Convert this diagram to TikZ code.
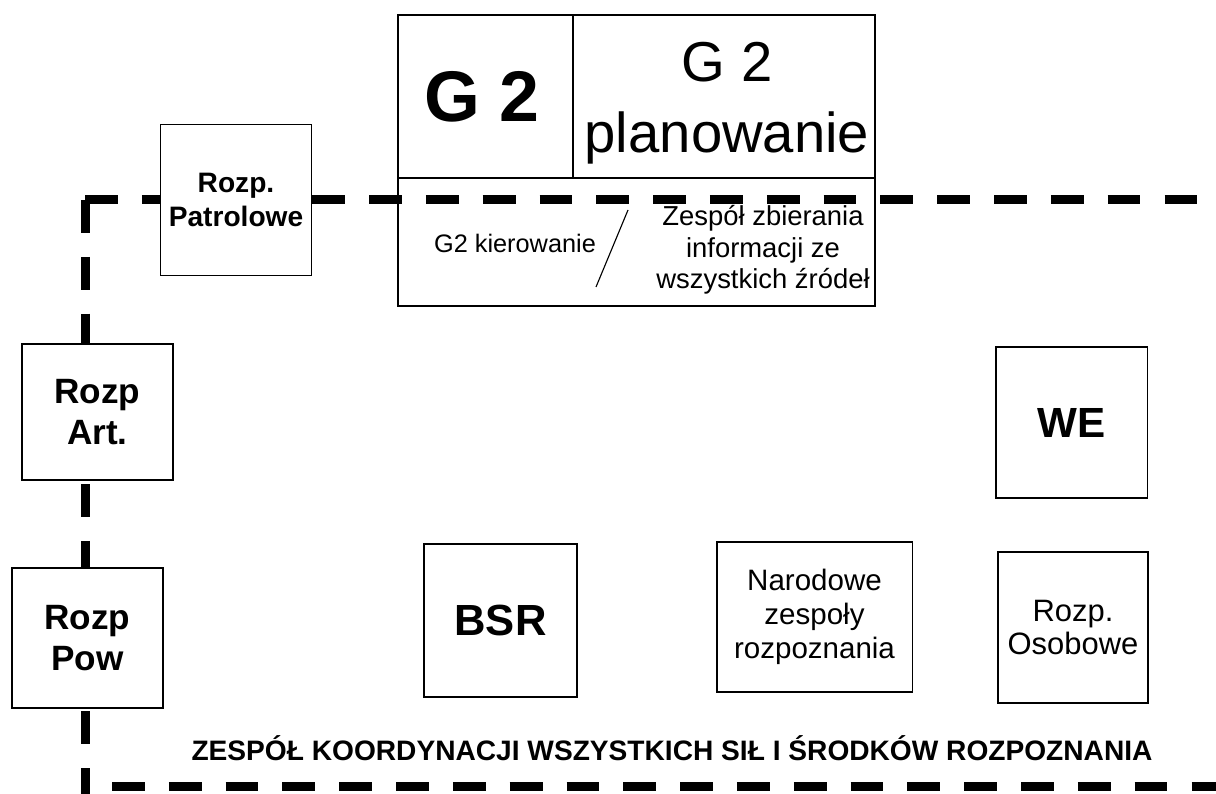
\documentclass[tikz,border=0pt]{standalone}
\usepackage{fontspec}
\setmainfont{Liberation Sans}
\tikzset{
  cell/.style={draw, line width=0.9pt, inner sep=0pt, align=center},
  unitbox/.style={cell, fill=white, minimum width=3.78cm, minimum height=3.78cm},
  frameline/.style={line width=6.4pt, dash pattern=on 0.82cm off 0.6cm}
}
\newcommand{\fs}[2]{\fontsize{#1}{#2}\selectfont}
\begin{document}
\begin{tikzpicture}[x=0.025cm, y=-0.025cm]
    \useasboundingbox (0,0) rectangle (1216,794);

    % Frame of the coordination team
    \coordinate (tl) at (85,200);
    \coordinate (tr) at (1216,200);
    \coordinate (bl) at (85,794);
    \coordinate (bs) at (112,786);
    \coordinate (br) at (1216,786);
    \draw[frameline] (tl) -- (tr);
    \draw[frameline] (tl) -- (bl);
    \draw[frameline] (bs) -- (br);

    % G2 block
    \node[cell, minimum width=4.375cm, minimum height=4.075cm] (g2) at (485.5,96.5) {};
    \node[cell, minimum width=7.55cm, minimum height=4.075cm] (g2plan) at (724,96.5) {};
    \node[cell, minimum width=11.925cm, minimum height=3.2cm] (g2low) at (636.5,242) {};
    \node[font=\fs{51}{56}\bfseries] (g2txt) at (482,97) {G 2};
    \node[font=\fs{40}{44}] (g2top) at (727,62) {G 2};
    \node[font=\fs{40}{44}] (g2plantxt) at (727,138) {planowanie};
    \node[font=\fs{18}{22}] (kier) at (515,243) {G2 kierowanie};
    \node[align=center, font=\fs{19.5}{22.5}] (zesp) at (763,250) {Zespół zbierania\\ informacji ze\\ wszystkich źródeł};
    \coordinate (slashtop) at (628,210);
    \coordinate (slashbot) at (596,287);
    \draw[line width=0.8pt] (slashtop) -- (slashbot);

    % Reconnaissance elements
    \node[unitbox, font=\fs{20}{24}\bfseries] (patrol) at (236,200) {Rozp.\\ Patrolowe};
    \node[unitbox, minimum height=3.4cm, font=\fs{25}{29}\bfseries] (art) at (97.5,412) {Rozp\\ Art.};
    \node[unitbox, minimum height=3.5cm, font=\fs{25}{29}\bfseries] (pow) at (87.5,638) {Rozp\\ Pow};
    \node[unitbox, font=\fs{30}{34}\bfseries] (we) at (1071.5,422.5) {WE};
    \node[unitbox, minimum width=3.83cm, minimum height=3.83cm, font=\fs{31}{34}\bfseries] (bsr) at (500.5,620.5) {BSR};
    \node[unitbox, minimum width=4.88cm, minimum height=3.75cm, font=\fs{21}{24}] (narod) at (814.5,617) {Narodowe\\ zespoły\\ rozpoznania};
    \node[unitbox, minimum width=3.75cm, font=\fs{22}{24}] (osob) at (1073,627.5) {Rozp.\\ Osobowe};

    % Team title
    \node[font=\fs{20}{24}\bfseries] (title) at (672,748) {ZESPÓŁ KOORDYNACJI WSZYSTKICH SIŁ I ŚRODKÓW ROZPOZNANIA};
\end{tikzpicture}
\end{document}
